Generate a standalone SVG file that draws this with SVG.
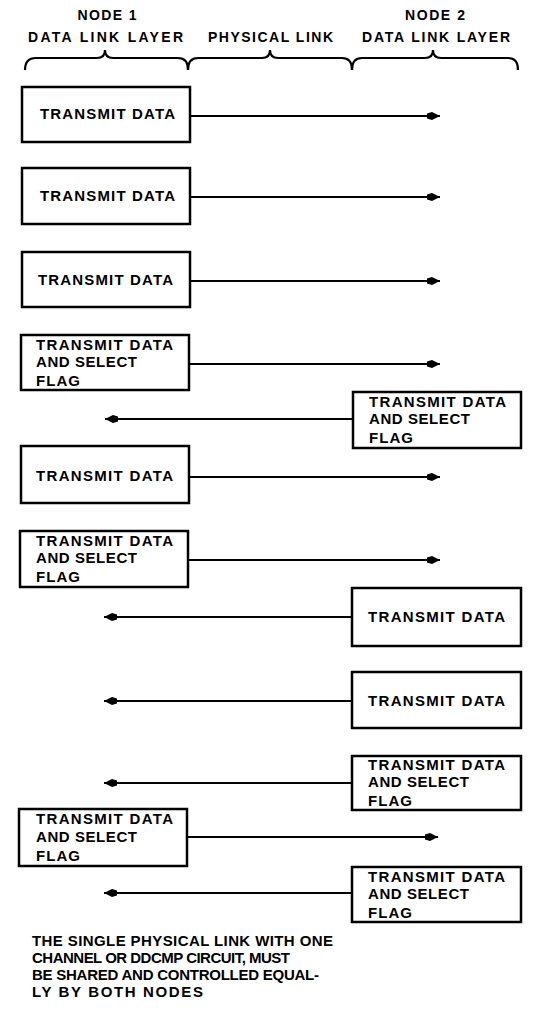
<svg xmlns="http://www.w3.org/2000/svg" width="533" height="1014" viewBox="0 0 533 1014">
  <style>
    .box { fill: #fff; stroke: #000; stroke-width: 2.5; }
    .lbl { font-family: "Liberation Sans", Arial, sans-serif; font-weight: bold; font-size: 15px; fill: #000; }
    .hdr { font-family: "Liberation Sans", Arial, sans-serif; font-weight: bold; font-size: 14px; fill: #000; }
    .wire { stroke: #000; stroke-width: 2; fill: none; }
    .brace { stroke: #000; stroke-width: 2.2; fill: none; }
  </style>
  <defs>
    <marker id="head" viewBox="0 0 13 8" refX="13" refY="4" markerWidth="13" markerHeight="8" markerUnits="userSpaceOnUse" orient="auto">
      <path d="M0,1.5 L5,0 L13,4 L5,8 L0,6.5 Z" fill="#000"/>
    </marker>
  </defs>
  <rect width="533" height="1014" fill="#fff"/>

  <!-- column headings -->
  <g id="headings">
    <text class="hdr" x="107" y="20" text-anchor="middle" textLength="59" lengthAdjust="spacing">NODE 1</text>
    <text class="hdr" x="435" y="20" text-anchor="middle" textLength="60" lengthAdjust="spacing">NODE 2</text>
    <text class="hdr" x="28" y="42" textLength="155" lengthAdjust="spacing">DATA LINK LAYER</text>
    <text class="hdr" x="208" y="42" textLength="125" lengthAdjust="spacing">PHYSICAL LINK</text>
    <text class="hdr" x="362" y="42" textLength="148" lengthAdjust="spacing">DATA LINK LAYER</text>
  </g>

  <!-- braces under headings -->
  <g id="braces">
    <path class="brace" d="M25,70 Q25,58 36,58 L97,58 Q105,58 105,50 Q105,58 113,58 L178,58 Q188,58 188,70"/>
    <path class="brace" d="M188,70 Q188,58 198,58 L262,58 Q270,58 270,50 Q270,58 278,58 L342,58 Q352,58 352,70"/>
    <path class="brace" d="M352,70 Q352,58 362,58 L425,58 Q433,58 433,50 Q433,58 441,58 L508,58 Q518,58 518,70"/>
  </g>

  <!-- connectors -->
  <g id="connectors">
    <line class="wire" x1="190" y1="116" x2="440" y2="116" marker-end="url(#head)"/>
    <line class="wire" x1="190" y1="197" x2="440" y2="197" marker-end="url(#head)"/>
    <line class="wire" x1="190" y1="281" x2="440" y2="281" marker-end="url(#head)"/>
    <line class="wire" x1="190" y1="364" x2="440" y2="364" marker-end="url(#head)"/>
    <line class="wire" x1="353" y1="419" x2="105" y2="419" marker-end="url(#head)"/>
    <line class="wire" x1="190" y1="477" x2="440" y2="477" marker-end="url(#head)"/>
    <line class="wire" x1="189" y1="560" x2="440" y2="560" marker-end="url(#head)"/>
    <line class="wire" x1="352" y1="617" x2="104" y2="617" marker-end="url(#head)"/>
    <line class="wire" x1="352" y1="701" x2="104" y2="701" marker-end="url(#head)"/>
    <line class="wire" x1="352" y1="783" x2="104" y2="783" marker-end="url(#head)"/>
    <line class="wire" x1="187" y1="837" x2="438" y2="837" marker-end="url(#head)"/>
    <line class="wire" x1="352" y1="893" x2="104" y2="893" marker-end="url(#head)"/>
  </g>

  <!-- Node 1 side -->
  <g id="n1-tx1">
    <rect class="box" x="22" y="87" width="168" height="55"/>
    <text class="lbl" x="40" y="119" textLength="135" lengthAdjust="spacing">TRANSMIT DATA</text>
  </g>
  <g id="n1-tx2">
    <rect class="box" x="22" y="168" width="168" height="56"/>
    <text class="lbl" x="40" y="201" textLength="135" lengthAdjust="spacing">TRANSMIT DATA</text>
  </g>
  <g id="n1-tx3">
    <rect class="box" x="22" y="252" width="168" height="55"/>
    <text class="lbl" x="38" y="285" textLength="135" lengthAdjust="spacing">TRANSMIT DATA</text>
  </g>
  <g id="n1-flag1">
    <rect class="box" x="21" y="335" width="168" height="55"/>
    <text class="lbl" x="36" y="350" textLength="137" lengthAdjust="spacing">TRANSMIT DATA</text>
    <text class="lbl" x="36" y="367" textLength="101" lengthAdjust="spacing">AND SELECT</text>
    <text class="lbl" x="36" y="386" textLength="44" lengthAdjust="spacing">FLAG</text>
  </g>
  <g id="n1-tx4">
    <rect class="box" x="21" y="446" width="168" height="57"/>
    <text class="lbl" x="36" y="481" textLength="137" lengthAdjust="spacing">TRANSMIT DATA</text>
  </g>
  <g id="n1-flag2">
    <rect class="box" x="20" y="531" width="168" height="56"/>
    <text class="lbl" x="36" y="546" textLength="137" lengthAdjust="spacing">TRANSMIT DATA</text>
    <text class="lbl" x="36" y="563" textLength="101" lengthAdjust="spacing">AND SELECT</text>
    <text class="lbl" x="36" y="582" textLength="44" lengthAdjust="spacing">FLAG</text>
  </g>
  <g id="n1-flag3">
    <rect class="box" x="19" y="809" width="168" height="57"/>
    <text class="lbl" x="36" y="824" textLength="137" lengthAdjust="spacing">TRANSMIT DATA</text>
    <text class="lbl" x="36" y="842" textLength="101" lengthAdjust="spacing">AND SELECT</text>
    <text class="lbl" x="36" y="861" textLength="44" lengthAdjust="spacing">FLAG</text>
  </g>

  <!-- Node 2 side -->
  <g id="n2-flag1">
    <rect class="box" x="353" y="392" width="168" height="56"/>
    <text class="lbl" x="369" y="407" textLength="137" lengthAdjust="spacing">TRANSMIT DATA</text>
    <text class="lbl" x="369" y="424" textLength="101" lengthAdjust="spacing">AND SELECT</text>
    <text class="lbl" x="369" y="443" textLength="44" lengthAdjust="spacing">FLAG</text>
  </g>
  <g id="n2-tx1">
    <rect class="box" x="352" y="588" width="169" height="58"/>
    <text class="lbl" x="368" y="622" textLength="137" lengthAdjust="spacing">TRANSMIT DATA</text>
  </g>
  <g id="n2-tx2">
    <rect class="box" x="352" y="672" width="169" height="56"/>
    <text class="lbl" x="368" y="706" textLength="137" lengthAdjust="spacing">TRANSMIT DATA</text>
  </g>
  <g id="n2-flag2">
    <rect class="box" x="352" y="756" width="169" height="54"/>
    <text class="lbl" x="368" y="770" textLength="137" lengthAdjust="spacing">TRANSMIT DATA</text>
    <text class="lbl" x="368" y="787" textLength="101" lengthAdjust="spacing">AND SELECT</text>
    <text class="lbl" x="368" y="806" textLength="44" lengthAdjust="spacing">FLAG</text>
  </g>
  <g id="n2-flag3">
    <rect class="box" x="352" y="867" width="169" height="55"/>
    <text class="lbl" x="368" y="882" textLength="137" lengthAdjust="spacing">TRANSMIT DATA</text>
    <text class="lbl" x="368" y="899" textLength="101" lengthAdjust="spacing">AND SELECT</text>
    <text class="lbl" x="368" y="918" textLength="44" lengthAdjust="spacing">FLAG</text>
  </g>

  <!-- footnote -->
  <g id="note">
    <text class="lbl" x="32" y="946" textLength="301" lengthAdjust="spacing">THE SINGLE PHYSICAL LINK WITH ONE</text>
    <text class="lbl" x="32" y="963" textLength="258" lengthAdjust="spacing">CHANNEL OR DDCMP CIRCUIT, MUST</text>
    <text class="lbl" x="32" y="980" textLength="287" lengthAdjust="spacing">BE SHARED AND CONTROLLED EQUAL-</text>
    <text class="lbl" x="32" y="997" textLength="171" lengthAdjust="spacing">LY BY BOTH NODES</text>
  </g>
</svg>
